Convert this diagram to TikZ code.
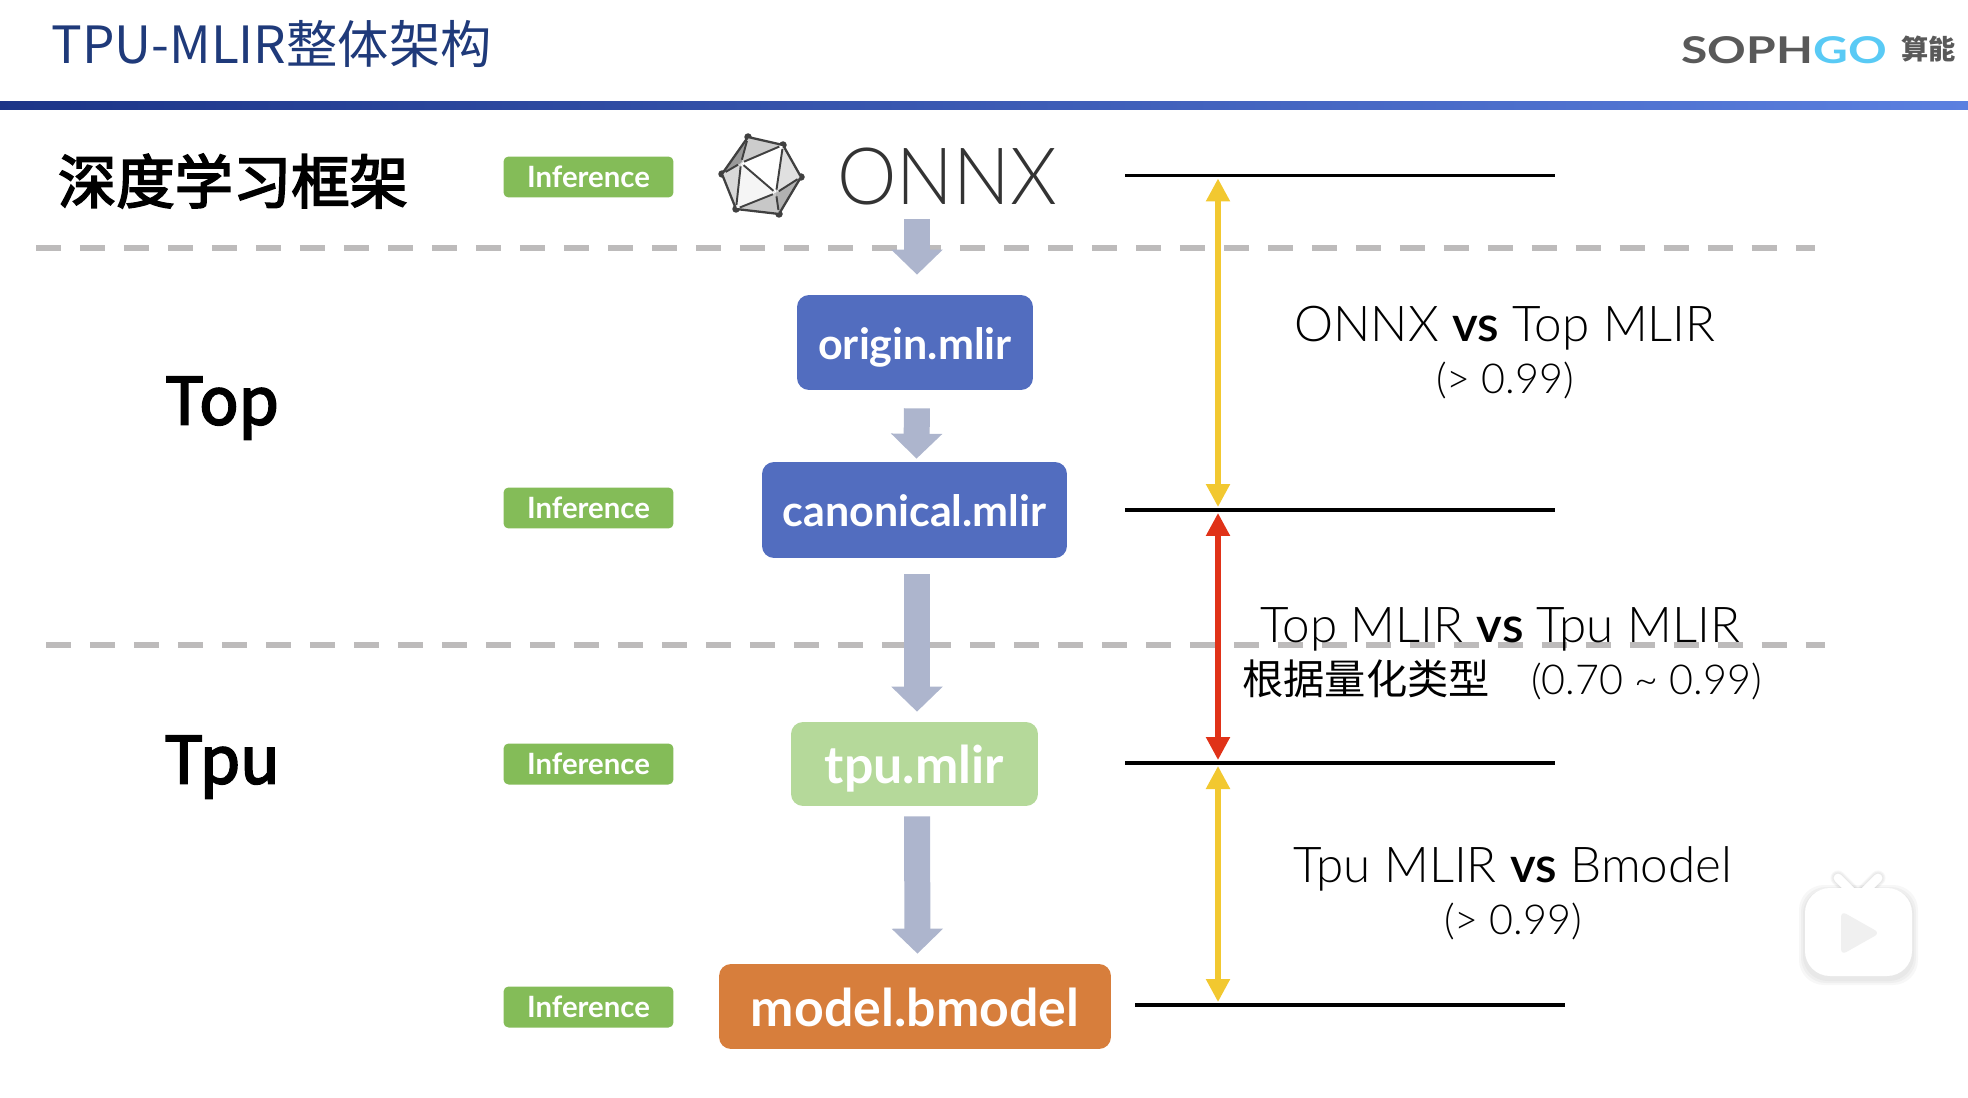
\documentclass[tikz,border=0pt]{standalone}
\usepackage{fontspec}
\setmainfont{Lato}
\newfontfamily\cjk{Noto Sans CJK SC}
\newfontfamily\cjkmed[FakeBold=3]{Noto Sans CJK SC}
\newfontfamily\thinfont{Lato Light}
\usetikzlibrary{arrows.meta}
\definecolor{titleblue}{HTML}{1F3A7A}
\definecolor{ruleblue}{HTML}{5B80E0}
\definecolor{flowgrey}{HTML}{ADB5CD}
\definecolor{sepgrey}{HTML}{BDBBBB}
\definecolor{infgreen}{HTML}{84BC58}
\definecolor{boxblue}{HTML}{526DBF}
\definecolor{boxgreen}{HTML}{B5D99A}
\definecolor{boxorange}{HTML}{D77E3C}
\definecolor{goldline}{HTML}{F2C830}
\definecolor{redline}{HTML}{E03218}
\tikzset{
  infbox/.style={fill=infgreen, rounded corners=0.1cm, minimum width=3.4cm, minimum height=0.82cm, inner sep=0pt, text=white, font=\fontsize{16.7}{17}\selectfont\bfseries},
  filebox/.style={rounded corners=0.24cm, inner sep=0pt, text=white},
  smallfile/.style={filebox, font=\fontsize{24.5}{26}\bfseries, text height=24pt, text depth=5pt},
  largefile/.style={filebox, font=\fontsize{29.5}{31}\bfseries, text height=29pt, text depth=6.3pt},
  flowarrow/.style={draw=flowgrey, line width=0.52cm, -{Triangle[width=1cm,length=0.5cm,fill=flowgrey]}},
  sepline/.style={draw=sepgrey, line width=0.13cm, dash pattern=on 0.5cm off 0.38cm},
  levelline/.style={draw=black, line width=2pt},
  goldarrow/.style={draw=goldline, line width=3pt, {Triangle[width=0.46cm,length=0.46cm]}-{Triangle[width=0.46cm,length=0.46cm]}, shorten <=0.06cm, shorten >=0.06cm},
  redarrow/.style={goldarrow, draw=redline},
  cmplabel/.style={inner sep=0pt, font=\fontsize{28.1}{30}\thinfont},
  ratiolabel/.style={inner sep=0pt, font=\fontsize{23.5}{25}\thinfont},
  logodot/.style={circle, fill=black!75, inner sep=0pt, minimum size=0.15cm},
}
\begin{document}
\begin{tikzpicture}[x=0.02cm, y=-0.02cm]
  \useasboundingbox (0,0) rectangle (1968,1098);

  % Header
  \node[anchor=west, inner sep=0pt, text=titleblue, font=\fontsize{29.2}{31}\cjk] (title) at (51,44) {TPU-MLIR整体架构};
  \shade[left color=titleblue!90!blue, right color=ruleblue] (0,102) rectangle (1968,110);
  \node[anchor=west, inner sep=0pt, xscale=1.3, transform shape, font=\fontsize{21}{22}\bfseries] (brand) at (1681,50) {\textcolor{black!65}{SOPH}\textcolor{cyan!65!white}{GO}};
  \node[anchor=west, inner sep=0pt, text=black!65, font=\fontsize{15.5}{16}\cjk\bfseries] (brandcn) at (1901,49) {算能};

  % Separators
  \coordinate (sepAa) at (36,248);
  \coordinate (sepAb) at (1815,248);
  \coordinate (sepBa) at (46,645);
  \coordinate (sepBb) at (1825,645);
  \draw[sepline] (sepAa) -- (sepAb);
  \draw[sepline] (sepBa) -- (sepBb);

  % Left labels
  \node[anchor=center, inner sep=0pt, font=\fontsize{33.2}{34}\cjkmed] (framework) at (233,181) {深度学习框架};
  \node[anchor=center, inner sep=0pt, font=\fontsize{37}{38}\cjkmed] (top) at (222,408) {Top};
  \node[anchor=center, inner sep=0pt, font=\fontsize{37}{38}\cjkmed] (tpu) at (222,767) {Tpu};

  % Inference tags
  \node[infbox] (infA) at (588.5,177) {Inference};
  \node[infbox] (infB) at (588.5,508) {Inference};
  \node[infbox] (infC) at (588.5,764) {Inference};
  \node[infbox] (infD) at (588.5,1007) {Inference};

  % ONNX logo
  \node[logodot] (A) at (748,137) {};
  \node[logodot] (B) at (783,145) {};
  \node[logodot] (C) at (801,177) {};
  \node[logodot] (D) at (779,214) {};
  \node[logodot] (E) at (736,209) {};
  \node[logodot] (F) at (722,174) {};
  \node[logodot, minimum size=0.12cm] (G) at (741,163) {};
  \node[logodot, minimum size=0.12cm] (H) at (776,193) {};
  \fill[black!20] (A.center) -- (B.center) -- (G.center) -- cycle;
  \fill[black!40] (A.center) -- (F.center) -- (G.center) -- cycle;
  \fill[black!15] (F.center) -- (G.center) -- (E.center) -- cycle;
  \fill[black!4] (G.center) -- (E.center) -- (H.center) -- cycle;
  \fill[white] (G.center) -- (B.center) -- (H.center) -- cycle;
  \fill[black!12] (B.center) -- (C.center) -- (H.center) -- cycle;
  \fill[black!30] (C.center) -- (D.center) -- (H.center) -- cycle;
  \fill[black!22] (D.center) -- (E.center) -- (H.center) -- cycle;
  \draw[black!75, line width=1.3pt, line join=round] (A.center) -- (B.center) -- (C.center) -- (D.center) -- (E.center) -- (F.center) -- cycle;
  \draw[black!75, line width=1.1pt] (G) -- (A);
  \draw[black!75, line width=1.1pt] (G) -- (B);
  \draw[black!75, line width=1.1pt] (G) -- (F);
  \draw[black!75, line width=1.1pt] (G) -- (E);
  \draw[black!75, line width=1.1pt] (G) -- (H);
  \draw[black!75, line width=1.1pt] (H) -- (B);
  \draw[black!75, line width=1.1pt] (H) -- (C);
  \draw[black!75, line width=1.1pt] (H) -- (D);
  \draw[black!75, line width=1.1pt] (H) -- (E);
  \node[anchor=center, inner sep=0pt, xscale=0.95, transform shape, text=black!80, font=\fontsize{45}{46}\thinfont] (onnx) at (947,177) {ONNX};
  \coordinate (onnxbase) at (917,219);

  % File boxes
  \node[smallfile, fill=boxblue, minimum width=4.72cm, minimum height=1.9cm] (origin) at (915,342.5) {origin.mlir};
  \node[smallfile, fill=boxblue, minimum width=6.1cm, minimum height=1.92cm] (canonical) at (914.5,510) {canonical.mlir};
  \node[largefile, fill=boxgreen, minimum width=4.94cm, minimum height=1.68cm] (tpumlir) at (914.5,764) {tpu.mlir};
  \node[largefile, fill=boxorange, minimum width=7.84cm, minimum height=1.7cm] (bmodel) at (915,1006.5) {model.bmodel};

  % Flow arrows
  \draw[flowarrow, shorten >=0.4cm] (onnxbase) -- (onnxbase |- origin.north);
  \draw[flowarrow, shorten <=0.36cm, shorten >=0.06cm] ([xshift=0.04cm]origin.south) -- ([xshift=0.04cm]canonical.north);
  \draw[flowarrow, shorten <=0.32cm, shorten >=0.2cm] ([xshift=0.05cm]canonical.south) -- ([xshift=0.05cm]tpumlir.north);
  \draw[flowarrow, shorten <=0.2cm, shorten >=0.2cm] ([xshift=0.05cm]tpumlir.south) -- ([xshift=0.05cm]bmodel.north);

  % Level lines
  \coordinate (lvlAa) at (1125,175.5);
  \coordinate (lvlAb) at (1555,175.5);
  \coordinate (lvlBa) at (1125,510);
  \coordinate (lvlBb) at (1555,510);
  \coordinate (lvlCa) at (1125,763);
  \coordinate (lvlCb) at (1555,763);
  \coordinate (lvlDa) at (1135,1005);
  \coordinate (lvlDb) at (1565,1005);
  \draw[levelline] (lvlAa) -- (lvlAb);
  \draw[levelline] (lvlBa) -- (lvlBb);
  \draw[levelline] (lvlCa) -- (lvlCb);
  \draw[levelline] (lvlDa) -- (lvlDb);

  % Comparison arrows
  \coordinate (cmpA) at (1218,175.5);
  \coordinate (cmpB) at (1218,510);
  \coordinate (cmpC) at (1218,763);
  \coordinate (cmpD) at (1218,1005);
  \draw[goldarrow] (cmpA) -- (cmpB);
  \draw[redarrow] (cmpB) -- (cmpC);
  \draw[goldarrow] (cmpC) -- (cmpD);

  % Comparison labels
  \node[cmplabel] (cmpAt) at (1505,328) {ONNX {\bfseries vs} Top MLIR};
  \node[ratiolabel] (cmpAr) at (1505,380) {(> 0.99)};
  \node[cmplabel] (cmpBt) at (1500,629) {Top MLIR {\bfseries vs} Tpu MLIR};
  \node[ratiolabel] (cmpBr) at (1502,680) {{\cjk 根据量化类型}\quad(0.70 \textasciitilde{} 0.99)};
  \node[cmplabel] (cmpCt) at (1513,869) {Tpu MLIR {\bfseries vs} Bmodel};
  \node[ratiolabel] (cmpCr) at (1513,921) {(> 0.99)};

  % Player badge
  \foreach \s in {6,4,2} {
    \fill[black, opacity=0.03, rounded corners=0.5cm] (1805-\s,888-\s+3) rectangle (1912+\s,976+\s+3);
    \draw[black, opacity=0.03, line width=5pt+\s*0.6pt, line cap=round] (1838,878) -- (1852,892);
    \draw[black, opacity=0.03, line width=5pt+\s*0.6pt, line cap=round] (1878,878) -- (1864,892);
  }
  \draw[white, line width=5pt, line cap=round] (1838,878) -- (1852,892);
  \draw[white, line width=5pt, line cap=round] (1878,878) -- (1864,892);
  \fill[white, rounded corners=0.5cm] (1805,888) rectangle (1912,976);
  \fill[black!6, rounded corners=0.12cm] (1841,911) -- (1841,955) -- (1880,933) -- cycle;
\end{tikzpicture}
\end{document}
